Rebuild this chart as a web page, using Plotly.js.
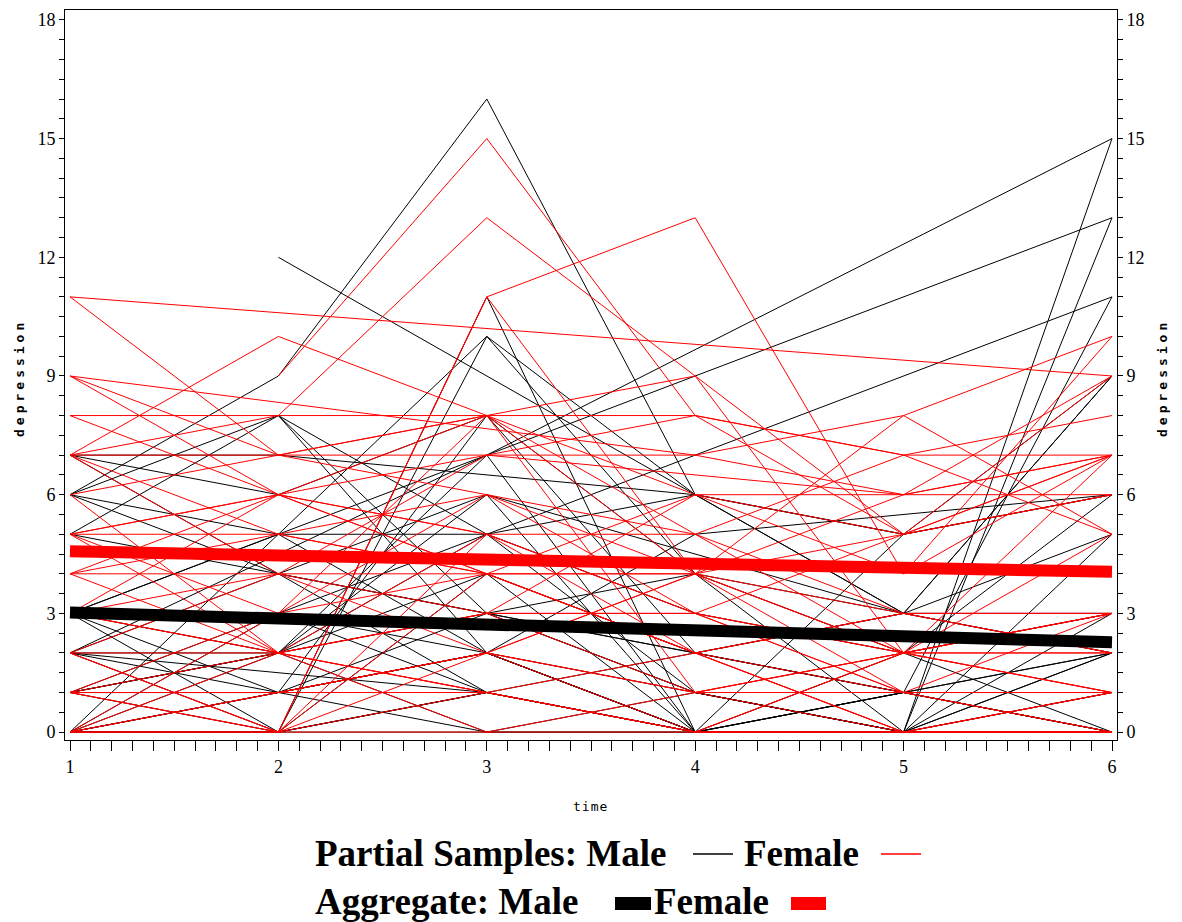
<!DOCTYPE html>
<html><head><meta charset="utf-8">
<script src="https://cdn.plot.ly/plotly-3.0.1.min.js"></script>
<style>html,body{margin:0;padding:0;background:#fff;}</style>
</head><body>
<div id="chart" style="width:1182px;height:922px;"></div>
<script>
// ---- data ----
const times = [1, 2, 3, 4, 5, 6];
const timeTicks = [1, 2, 3, 4, 5, 6];
const depressionTicks = [0, 3, 6, 9, 12, 15, 18];

// male partial samples: value of each subject at each time (null = missing)
const maleT1 = [6, null, 3, 2, 1, 3, 0, 2, 7, 6, 5, 7, 1, 0, 2, 3, 0, 1, 6, 0, 1, 2, 0, 3, 5, 0, 1, 0, 3, 2, 7, 0, 1, null, 0, 2, 1, 0, 3, 6];
const maleT2 = [9, 12, null, null, 3, 0, 0, 1, 7, 5, 8, 6, 2, 1, 2, 1, 0, 1, 8, 2, 0, 0, 1, 2, 4, 0, 2, 3, 3, null, 4, null, 2, 8, 1, 4, 1, 0, 5, 4];
const maleT3 = [16, null, 7, 7, 5, 10, 11, 8, null, 5, 2, 8, 4, 2, 3, 2, 1, 0, 3, 5, 1, 4, 3, 6, 3, 0, 0, 2, 1, 1, 3, 10, 7, 5, 2, 6, 2, 1, 2, 1];
const maleT4 = [6, 6, null, null, null, 4, 0, 2, 6, 6, 0, 4, 2, 0, 1, 0, 0, 1, 1, 1, 2, 0, 4, 0, 2, 0, 0, 1, 0, 0, 2, 6, 0, 3, 5, null, 0, 0, 0, 0];
const maleT5 = [null, 3, null, null, null, 0, 0, 1, 5, 5, 2, 3, 3, 0, 0, 1, 0, 0, 0, 0, 1, 1, 2, 0, 3, 0, 1, 0, 0, 0, 1, 3, 5, 2, null, 3, 0, 0, 1, 0];
const maleT6 = [null, 2, 15, 13, 11, 15, 13, 11, 9, 6, 6, 5, 3, 2, 0, 2, 0, 0, 1, 0, 0, 2, 3, 0, 2, 0, 0, 0, 1, 5, 0, 9, 6, 0, 6, 9, 3, 2, 0, 0];

// female partial samples
const femaleT1 = [11, 11, null, 7, 1, 2, 9, 8, 7, 5, 7, 4, 5, 6, 3, 0, 1, 0, 2, 4, 9, 0, 1, 5, 3, 0, 2, 7, 1, 4, 0, 1, 3, 5, 6, 0, 4, 1, 2, 0, 3, 7, 5, 9, 8];
const femaleT2 = [null, 7, 9, 8, 0, 0, null, null, 7, 6, 4, 2, 3, 2, 4, 2, 1, 0, 2, 5, 6, 3, 2, 5, 6, 1, 0, 10, 0, 4, 1, 1, 2, 2, 7, 0, 6, 3, 4, 0, 2, 5, 6, 7, 6];
const femaleT3 = [null, 8, 15, 13, 11, 11, null, 8, 7, 7, 7, 5, 8, 3, 4, 3, 2, 0, 1, 6, 5, 6, 0, 4, 4, 2, 5, 8, 4, 3, 1, 2, 3, 1, 8, 2, 5, 4, 2, 1, 1, 4, 8, 6, 4];
const femaleT4 = [null, 5, 8, 9, 13, 4, 7, 8, 7, 8, null, 3, 1, 6, 2, 1, 4, 0, 0, 5, 5, 3, 1, 4, 2, 0, 2, 9, 2, 3, 2, 1, 3, 0, 4, 4, 3, 6, 1, 0, 0, 4, 6, 4, 2];
const femaleT5 = [null, 2, 7, 2, 4, 1, 8, 7, 6, 5, 6, 5, 2, 4, 3, 0, 5, 0, 0, 7, 3, 1, 2, 2, 0, 0, 1, 5, 3, 2, 0, 1, 2, 2, 3, 6, 1, 5, 2, 0, 2, 8, 6, 2, 0];
const femaleT6 = [9, 7, 5, 3, 7, 3, 10, 8, 7, 9, 6, 7, 5, 10, 3, 0, 6, 0, 1, 7, 2, 1, 3, 1, 0, 0, 1, 6, 2, 2, 1, 0, 3, 1, 3, 9, 0, 7, 2, 1, 3, 5, 7, 1, 0];

// aggregate (mean) trajectories
const aggMale = [3.02, 2.87, 2.74, 2.58, 2.43, 2.27];
const aggFemale = [4.57, 4.46, 4.33, 4.25, 4.14, 4.05];

// ---- build traces ----
function subjectTraces(cols, color) {
  const out = [];
  const n = cols[0].length;
  for (let i = 0; i < n; i++) {
    out.push({
      type: 'scatter', mode: 'lines', x: times,
      y: cols.map(c => c[i]),
      connectgaps: true,
      line: {color: color, width: 1},
      hoverinfo: 'skip', showlegend: false
    });
  }
  return out;
}
const traces = [].concat(
  subjectTraces([maleT1, maleT2, maleT3, maleT4, maleT5, maleT6], '#000000'),
  subjectTraces([femaleT1, femaleT2, femaleT3, femaleT4, femaleT5, femaleT6], '#ff0000'),
  [
    {type:'scatter', mode:'lines', x: times, y: aggFemale, line:{color:'#ff0000', width:12}, hoverinfo:'skip', showlegend:false},
    {type:'scatter', mode:'lines', x: times, y: aggMale, line:{color:'#000000', width:12}, hoverinfo:'skip', showlegend:false},
    {type:'scatter', mode:'lines', x: times, y: aggMale, yaxis:'y2', line:{color:'rgba(0,0,0,0)', width:0}, hoverinfo:'skip', showlegend:false}
  ]
);

// pixel helpers for paper placement
const PL = 65, PR = 1117, PT = 10, PB = 740;
const px = v => (v - PL) / (PR - PL);
const py = v => (PB - v) / (PB - PT);

const tickFont = {family: 'Liberation Serif, Times New Roman, serif', size: 18, color: '#000'};
const legFont = {family: 'Liberation Serif, Times New Roman, serif', size: 37, color: '#000', weight: 'bold'};
const yr = [-0.2, 18.25];

const layout = {
  width: 1182, height: 922,
  margin: {l: PL, r: 1182 - PR, t: PT, b: 922 - PB},
  paper_bgcolor: '#fff', plot_bgcolor: '#fff',
  showlegend: false,
  xaxis: {
    range: [0.976, 6.024], tickmode: 'array', tickvals: timeTicks, ticktext: timeTicks.map(String),
    ticks: 'outside', ticklen: 10, tickwidth: 1, tickcolor: '#000',
    showline: true, linecolor: '#000', linewidth: 1, mirror: true,
    showgrid: false, zeroline: false, tickfont: tickFont,
    minor: {dtick: 0.1, tick0: 1, ticks: 'outside', ticklen: 10, tickwidth: 1, tickcolor: '#000', showgrid: false}
  },
  yaxis: {
    range: yr, tickmode: 'array', tickvals: depressionTicks, ticktext: depressionTicks.map(String),
    ticks: 'outside', ticklen: 5, tickwidth: 1, tickcolor: '#000',
    showline: true, linecolor: '#000', linewidth: 1, mirror: true,
    showgrid: false, zeroline: false, tickfont: tickFont,
    minor: {dtick: 0.5, tick0: 0, ticks: 'outside', ticklen: 5, tickwidth: 1, tickcolor: '#000', showgrid: false}
  },
  yaxis2: {
    range: yr, overlaying: 'y', side: 'right', tickmode: 'array', tickvals: depressionTicks, ticktext: depressionTicks.map(String),
    ticks: 'outside', ticklen: 5, tickwidth: 1, tickcolor: '#000',
    showline: true, linecolor: '#000', linewidth: 1,
    showgrid: false, zeroline: false, tickfont: tickFont,
    minor: {dtick: 0.5, tick0: 0, ticks: 'outside', ticklen: 5, tickwidth: 1, tickcolor: '#000', showgrid: false}
  },
  annotations: [
    {text: 'time', xref: 'paper', yref: 'paper', x: px(590), y: py(806), showarrow: false,
     font: {family: 'DejaVu Sans Mono, monospace', size: 13, color: '#000'}, xanchor: 'center', yanchor: 'middle'},
    {text: 'depression', xref: 'paper', yref: 'paper', x: px(20), y: py(378), textangle: -90, showarrow: false,
     font: {family: 'DejaVu Sans Mono, monospace', size: 13, color: '#000', weight: 'bold'}, xanchor: 'center', yanchor: 'middle'},
    {text: 'depression', xref: 'paper', yref: 'paper', x: px(1163), y: py(378), textangle: -90, showarrow: false,
     font: {family: 'DejaVu Sans Mono, monospace', size: 13, color: '#000', weight: 'bold'}, xanchor: 'center', yanchor: 'middle'},
    {text: 'Partial Samples: Male', xref: 'paper', yref: 'paper', x: px(313), y: py(854), showarrow: false,
     font: legFont, xanchor: 'left', yanchor: 'middle'},
    {text: 'Female', xref: 'paper', yref: 'paper', x: px(742), y: py(854), showarrow: false,
     font: legFont, xanchor: 'left', yanchor: 'middle'},
    {text: 'Aggregate: Male', xref: 'paper', yref: 'paper', x: px(313), y: py(901), showarrow: false,
     font: legFont, xanchor: 'left', yanchor: 'middle'},
    {text: 'Female', xref: 'paper', yref: 'paper', x: px(652), y: py(901), showarrow: false,
     font: legFont, xanchor: 'left', yanchor: 'middle'}
  ],
  shapes: [
    {type: 'line', xref: 'paper', yref: 'paper', x0: px(693), x1: px(733), y0: py(854), y1: py(854), line: {color: '#000', width: 1.5}},
    {type: 'line', xref: 'paper', yref: 'paper', x0: px(881), x1: px(921), y0: py(854), y1: py(854), line: {color: '#ff0000', width: 1.5}},
    {type: 'rect', xref: 'paper', yref: 'paper', x0: px(615), x1: px(651), y0: py(910), y1: py(897), fillcolor: '#000', line: {width: 0}},
    {type: 'rect', xref: 'paper', yref: 'paper', x0: px(791), x1: px(826), y0: py(910), y1: py(897), fillcolor: '#ff0000', line: {width: 0}}
  ]
};

Plotly.newPlot('chart', traces, layout, {staticPlot: true, displayModeBar: false}).then(() => {
  document.querySelectorAll('.annotation-text').forEach(t => {
    const s = t.textContent;
    if (s === 'depression') t.style.letterSpacing = '4px';
    if (s === 'time') t.style.letterSpacing = '1px';
  });
});
</script>
</body></html>
